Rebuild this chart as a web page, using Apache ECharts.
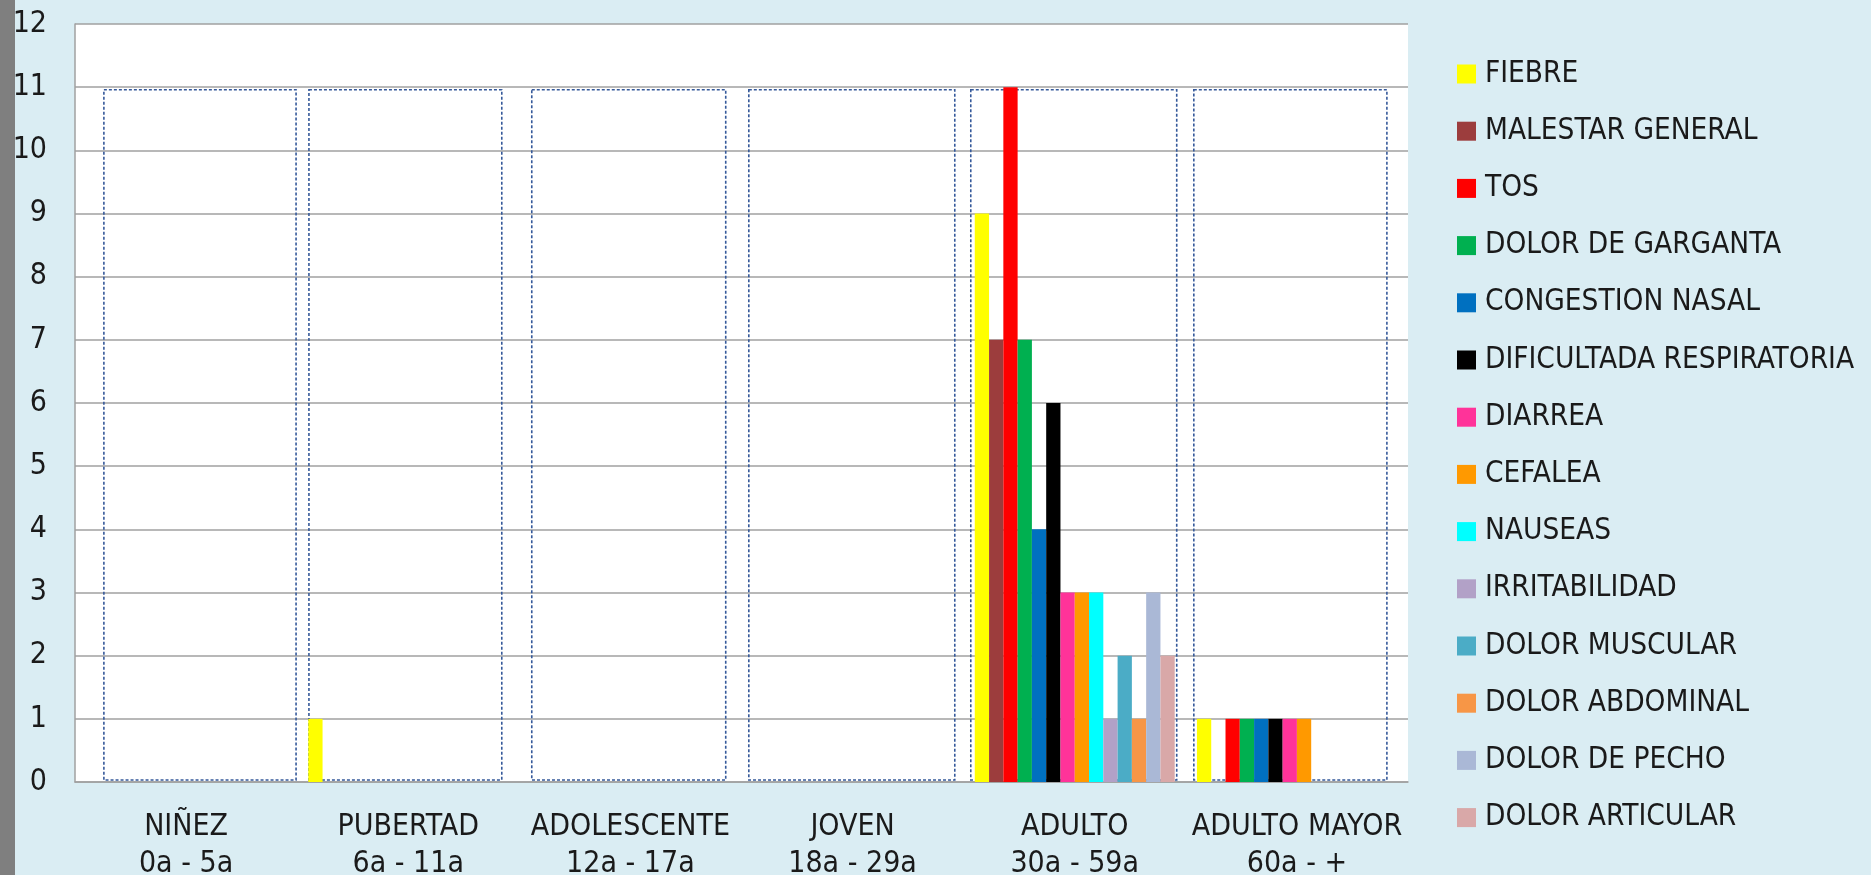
<!DOCTYPE html>
<html>
<head>
<meta charset="utf-8">
<script src="https://cdn.jsdelivr.net/npm/echarts@6/dist/echarts.min.js"></script>
<style>
html,body{margin:0;padding:0;background:#DAEDF3;}
#chart{width:1871px;height:875px;}
</style>
</head>
<body>
<div id="chart"></div>
<script>
// ---- data ----
const categories = ["NIÑEZ\n0a - 5a", "PUBERTAD\n6a - 11a", "ADOLESCENTE\n12a - 17a", "JOVEN\n18a - 29a", "ADULTO\n30a - 59a", "ADULTO MAYOR\n60a - +"];
const seriesNames = ["FIEBRE", "MALESTAR GENERAL", "TOS", "DOLOR DE GARGANTA", "CONGESTION NASAL", "DIFICULTADA RESPIRATORIA", "DIARREA", "CEFALEA", "NAUSEAS", "IRRITABILIDAD", "DOLOR MUSCULAR", "DOLOR ABDOMINAL", "DOLOR DE PECHO", "DOLOR ARTICULAR"];
const fiebre        = [0, 1, 0, 0, 9, 1];
const malestar      = [0, 0, 0, 0, 7, 0];
const tos           = [0, 0, 0, 0, 11, 1];
const garganta      = [0, 0, 0, 0, 7, 1];
const congestion    = [0, 0, 0, 0, 4, 1];
const dificultad    = [0, 0, 0, 0, 6, 1];
const diarrea       = [0, 0, 0, 0, 3, 1];
const cefalea       = [0, 0, 0, 0, 3, 1];
const nauseas       = [0, 0, 0, 0, 3, 0];
const irritabilidad = [0, 0, 0, 0, 1, 0];
const muscular      = [0, 0, 0, 0, 2, 0];
const abdominal     = [0, 0, 0, 0, 1, 0];
const pecho         = [0, 0, 0, 0, 3, 0];
const articular     = [0, 0, 0, 0, 2, 0];
const yTicks = [0, 1, 2, 3, 4, 5, 6, 7, 8, 9, 10, 11, 12];

// ---- styling ----
const seriesValues = [fiebre, malestar, tos, garganta, congestion, dificultad, diarrea, cefalea, nauseas, irritabilidad, muscular, abdominal, pecho, articular];
const colors = ["#FFFF00", "#9C3D3D", "#FF0000", "#00B050", "#0070C0", "#000000", "#FF3399", "#FF9900", "#00FFFF", "#B2A1C7", "#4BACC6", "#F79646", "#AAB8D6", "#D9A8A8"];
// decorative dashed boxes: [left, right] offsets in category-band units, top value
const boxExtents = [[-0.37, 0.495], [-0.447, 0.421], [-0.444, 0.429], [-0.467, 0.46], [-0.468, 0.459], [-0.464, 0.405]];
const boxTop = 10.96;

const FONT = "'Liberation Sans Narrow', 'DejaVu Sans Condensed', sans-serif";

const chart = echarts.init(document.getElementById('chart'), null, {renderer: 'canvas'});

const barSeries = seriesNames.map((name, i) => ({
  name: name,
  type: 'bar',
  data: seriesValues[i],
  barGap: '0%',
  barCategoryGap: '10%',
  itemStyle: {color: colors[i]},
  z: 3,
  emphasis: {disabled: true}
}));

const boxSeries = {
  type: 'custom',
  name: 'boxes',
  z: 2,
  silent: true,
  data: boxExtents.map((b, i) => [i, b[0], b[1]]),
  renderItem: function (params, api) {
    const i = api.value(0);
    const c0 = api.coord([i, 0]);
    const cT = api.coord([i, boxTop]);
    const band = api.size([1, 0])[0];
    const x1 = c0[0] + api.value(1) * band;
    const x2 = c0[0] + api.value(2) * band;
    return {
      type: 'rect',
      shape: {x: x1, y: cT[1], width: x2 - x1, height: c0[1] - cT[1] - 2},
      style: {fill: 'none', stroke: '#35599A', lineWidth: 1.6, lineDash: [3, 2]}
    };
  }
};

chart.setOption({
  animation: false,
  backgroundColor: '#DAEDF3',
  textStyle: {fontFamily: FONT},
  graphic: [{
    type: 'rect', left: 0, top: 0, shape: {width: 15, height: 875},
    style: {fill: '#7F7F7F'}, silent: true
  }],
  grid: {
    left: 75, right: 463, top: 24, bottom: 93,
    outerBoundsMode: 'none',
    containLabel: false,
    show: true, backgroundColor: '#FFFFFF', borderWidth: 0
  },
  legend: {
    orient: 'vertical',
    left: 1457, top: 59,
    padding: 0,
    itemWidth: 19, itemHeight: 19,
    itemGap: 27.2,
    icon: 'rect',
    data: seriesNames,
    selectedMode: false,
    textStyle: {fontFamily: FONT, fontSize: 29.5, color: '#1a1a1a', lineHeight: 30, padding: [0, 0, 0, 4]}
  },
  xAxis: {
    type: 'category',
    data: categories,
    axisLine: {show: true, lineStyle: {color: '#A0A0A0', width: 1.5}},
    axisTick: {show: false},
    axisLabel: {
      interval: 0, margin: 27,
      fontFamily: FONT, fontSize: 30, lineHeight: 37, color: '#1a1a1a'
    },
    splitLine: {show: false}
  },
  yAxis: {
    type: 'value',
    min: 0, max: 12, interval: 1,
    axisLine: {show: true, lineStyle: {color: '#A0A0A0', width: 1.5}},
    axisTick: {show: false},
    axisLabel: {
      margin: 28, fontFamily: FONT, fontSize: 30, color: '#1a1a1a',
      formatter: v => yTicks.includes(v) ? String(v) : ''
    },
    splitLine: {show: true, lineStyle: {color: '#A0A0A0', width: 1.5}}
  },
  series: [boxSeries].concat(barSeries)
});
</script>
</body>
</html>
